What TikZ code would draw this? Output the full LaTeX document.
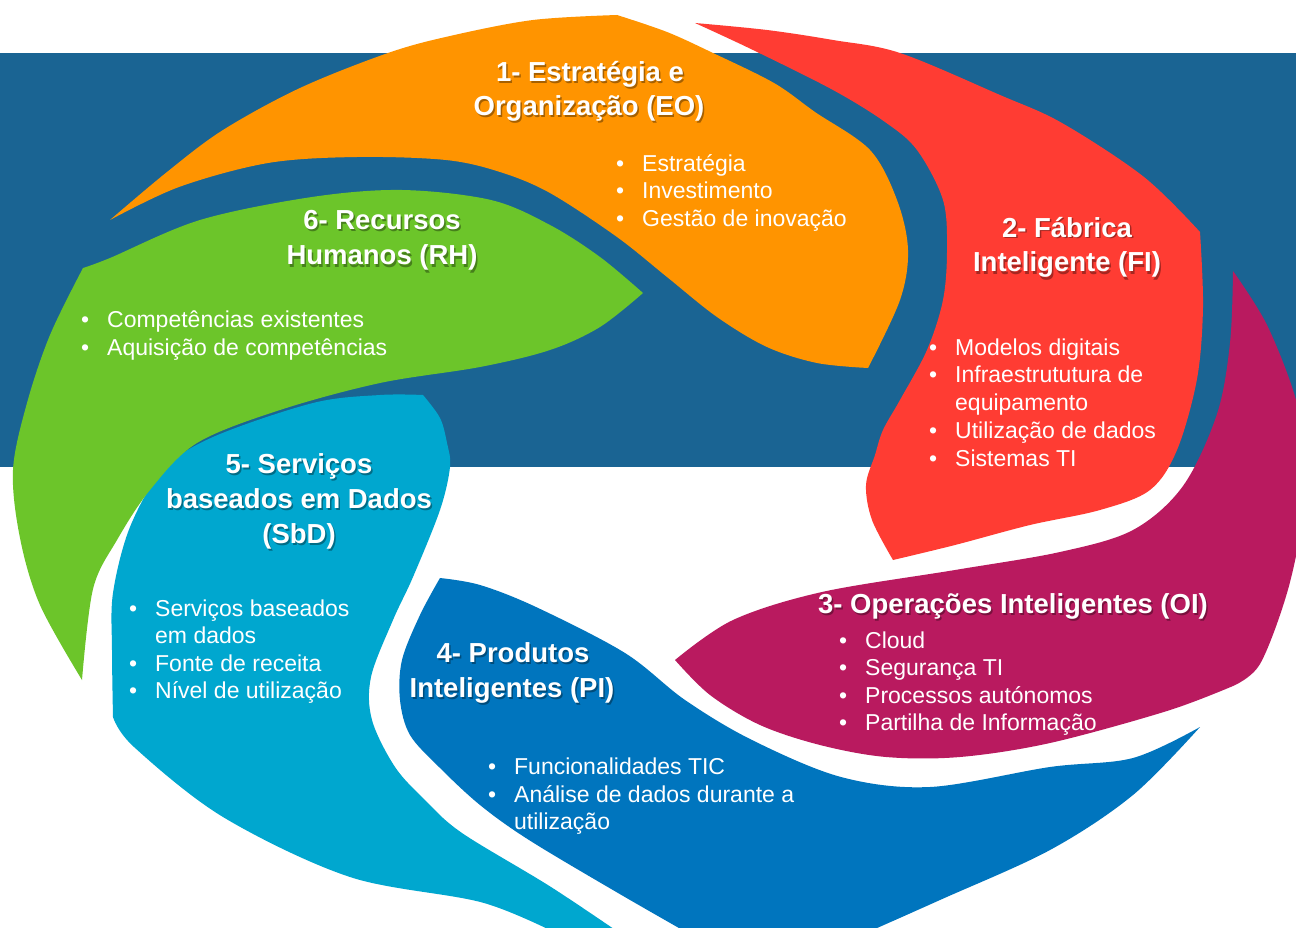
\documentclass[tikz,border=0pt]{standalone}
\usepackage{fontspec}
\setmainfont{Liberation Sans}
\definecolor{bgblue}{HTML}{1A6493}
\definecolor{orng}{HTML}{FF9400}
\definecolor{redd}{HTML}{FF3C33}
\definecolor{mag}{HTML}{B91A5F}
\definecolor{piblue}{HTML}{0075BE}
\definecolor{cyn}{HTML}{00A7CF}
\definecolor{grn}{HTML}{6CC52A}
\tikzset{
  ttl/.style={text=white, font=\fontsize{27.5}{33}\selectfont\bfseries, inner sep=0pt, anchor=base},
  ttlsh/.style={ttl, text=black, text opacity=0.35},
  itm/.style={text=white, font=\fontsize{23}{27}\selectfont, inner sep=0pt, anchor=base west},
  sm/.style={smooth, tension=0.55}
}
\newcommand\bul{\makebox[26pt][l]{\textbullet}}
\newcommand\ttlnode[4]{\node[ttlsh] (#1s) at (#2+1.5,#3+2) {#4}; \node[ttl] (#1) at (#2,#3) {#4};}
\begin{document}
\begin{tikzpicture}[x=1pt,y=-1pt]
\useasboundingbox (0,0) rectangle (1296,928);
\begin{scope}
\clip (0,0) rectangle (1296,928);
\fill[white] (0,0) rectangle (1296,928);
\fill[bgblue] (0,53) rectangle (1296,467);
% 1 orange
\fill[orng] plot[sm] coordinates {(110,220) (167,172) (223,130) (300,88) (388,53) (450,36) (533,20) (617,15)}
  -- plot[sm] coordinates {(617,15) (667,32) (713,53) (774,83) (815,112) (870,150) (897,200) (908,250) (900,300) (868,368)}
  -- plot[sm] coordinates {(868,368) (817,363) (767,347) (717,317) (667,277) (617,237) (550,193) (500,172) (446,160) (357,157) (268,163) (179,187) (110,220)} -- cycle;
% 2 red
\fill[redd] plot[sm] coordinates {(695,23) (767,30) (833,40) (900,53) (1000,95) (1062,123) (1144,177) (1200,232)}
  -- plot[sm] coordinates {(1200,232) (1203,307) (1197,379) (1177,450) (1150,490) (1100,510) (1030,525) (955,545) (893,560)}
  -- plot[sm] coordinates {(893,560) (872,520) (866,485) (875,455) (883,430) (900,400) (927,350) (943,300) (947,250) (943,200) (917,150) (885,122) (833,90) (753,50) (695,23)} -- cycle;
% 3 magenta
\fill[mag] plot[sm] coordinates {(1233,271) (1230,343) (1217,414) (1183,486) (1133,530) (1060,552) (955,570) (822,592) (733,620) (675,660)}
  -- plot[sm] coordinates {(675,660) (710,695) (760,725) (820,745) (886,757) (960,757) (1050,743) (1167,711) (1233,686)}
  -- plot[sm] coordinates {(1233,686) (1260,664) (1287,593) (1302,521) (1304,460) (1296,400) (1267,325) (1233,271)} -- cycle;
% 4 blue
\fill[piblue] plot[sm] coordinates {(440,578) (420,615) (402,660) (400,700) (410,735) (439,767) (480,805) (529,840) (618,893) (700,940)}
  -- plot[sm] coordinates {(850,940) (940,900) (1050,850) (1133,795) (1200,727)}
  -- plot[sm] coordinates {(1200,727) (1133,758) (1050,767) (930,787) (841,777) (752,740) (685,700) (625,653) (536,607) (480,585) (440,578)} -- cycle;
% 5 cyan
\fill[cyn] plot[sm] coordinates {(423,395) (440,418) (447,443) (450,467) (440,510) (413,577) (393,620) (371,677) (372,720) (395,767) (425,800) (462,833) (551,887) (630,940)}
  -- plot[sm] coordinates {(570,940) (484,903) (350,877) (223,817) (134,747) (113,717)}
  -- plot[sm] coordinates {(113,717) (112,650) (113,593) (130,527) (163,470) (213,437) (313,403) (380,395) (423,395)} -- cycle;
% 6 green
\fill[grn] plot[sm] coordinates {(83,268) (110,258) (200,220) (312,197) (402,190) (491,200) (550,225) (600,257) (643,293)}
  -- plot[sm] coordinates {(643,293) (600,327) (550,350) (480,367) (380,383) (280,410) (197,443) (150,490) (117,540) (93,589) (82,680)}
  -- plot[sm] coordinates {(82,680) (40,605) (20,538) (13,470) (27,403) (50,335) (83,268)} -- cycle;
\end{scope}
% titles
\ttlnode{eoA}{590}{82}{1- Estratégia e}
\ttlnode{eoB}{589}{116}{Organização (EO)}
\ttlnode{rhA}{382}{230}{6- Recursos}
\ttlnode{rhB}{382}{265}{Humanos (RH)}
\ttlnode{fiA}{1067}{237}{2- Fábrica}
\ttlnode{fiB}{1067}{272}{Inteligente (FI)}
\ttlnode{oiA}{1013}{613}{3- Operações Inteligentes (OI)}
\ttlnode{piA}{513}{662}{4- Produtos}
\ttlnode{piB}{512}{697}{Inteligentes (PI)}
\ttlnode{sbA}{299}{473}{5- Serviços}
\ttlnode{sbB}{299}{508}{baseados em Dados}
\ttlnode{sbC}{299}{543}{(SbD)}
% bullets
\node[itm] (eo1) at (616,172) {\bul Estratégia};
\node[itm] (eo2) at (616,199) {\bul Investimento};
\node[itm] (eo3) at (616,227) {\bul Gestão de inovação};
\node[itm] (rh1) at (81,327) {\bul Competências existentes};
\node[itm] (rh2) at (81,355) {\bul Aquisição de competências};
\node[itm] (fi1) at (929,355) {\bul Modelos digitais};
\node[itm] (fi2) at (929,382) {\bul Infraestrututura de};
\node[itm] (fi3) at (955,410) {equipamento};
\node[itm] (fi4) at (929,438) {\bul Utilização de dados};
\node[itm] (fi5) at (929,466) {\bul Sistemas TI};
\node[itm] (oi1) at (839,648) {\bul Cloud};
\node[itm] (oi2) at (839,675) {\bul Segurança TI};
\node[itm] (oi3) at (839,703) {\bul Processos autónomos};
\node[itm] (oi4) at (839,730) {\bul Partilha de Informação};
\node[itm] (pi1) at (488,774) {\bul Funcionalidades TIC};
\node[itm] (pi2) at (488,802) {\bul Análise de dados durante a};
\node[itm] (pi3) at (514,829) {utilização};
\node[itm] (sb1) at (129,616) {\bul Serviços baseados};
\node[itm] (sb2) at (155,643) {em dados};
\node[itm] (sb3) at (129,671) {\bul Fonte de receita};
\node[itm] (sb4) at (129,698) {\bul Nível de utilização};
\end{tikzpicture}
\end{document}
